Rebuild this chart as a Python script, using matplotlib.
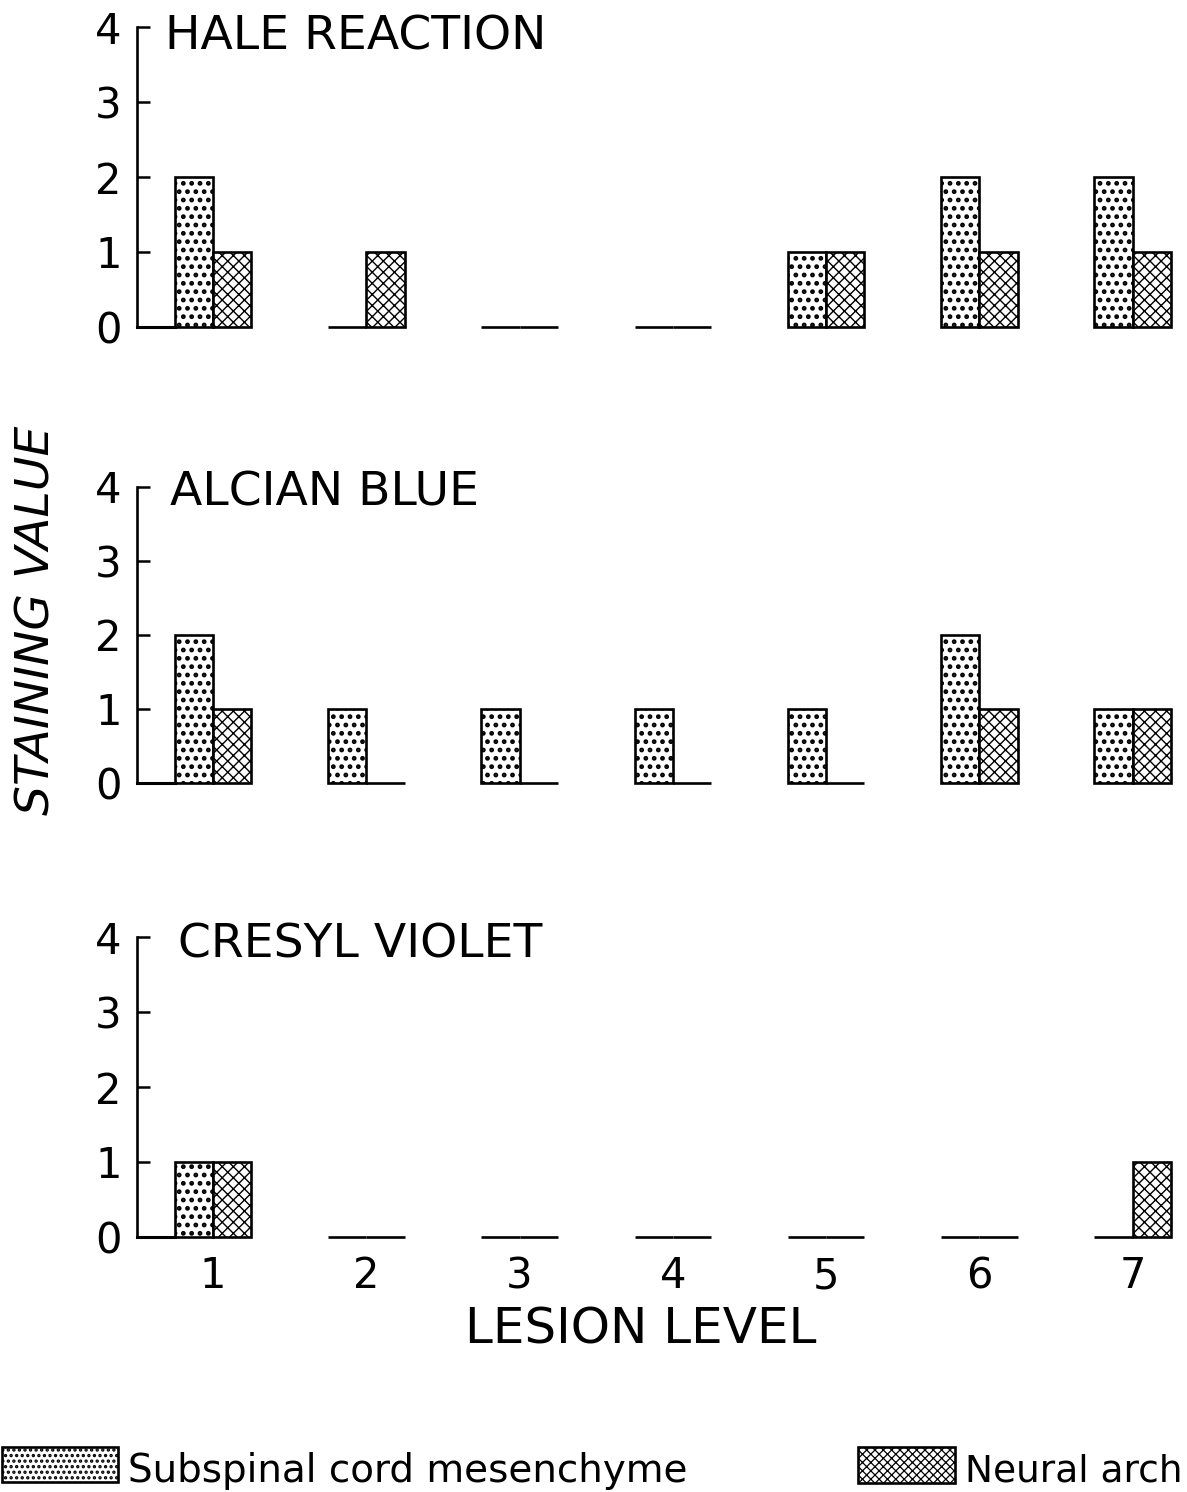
import matplotlib
matplotlib.use('Agg')
import matplotlib.pyplot as plt
from matplotlib.patches import Rectangle
import numpy as np

levels = [1, 2, 3, 4, 5, 6, 7]
panel_titles = ['HALE REACTION', 'ALCIAN BLUE', 'CRESYL VIOLET']
subspinal = [
    [2, 0, 0, 0, 1, 2, 2],
    [2, 1, 1, 1, 1, 2, 1],
    [1, 0, 0, 0, 0, 0, 0],
]
neural_arch = [
    [1, 1, 0, 0, 1, 1, 1],
    [1, 0, 0, 0, 0, 1, 1],
    [1, 0, 0, 0, 0, 0, 1],
]
y_ticks = [0, 1, 2, 3, 4]
legend_labels = ['Subspinal cord mesenchyme', 'Neural arch']

W, H = 1187, 1492
plt.rcParams['font.family'] = ['DejaVu Sans']

fig = plt.figure(figsize=(W / 100, H / 100), dpi=100)


def fx(px):
    return px / W


def fy(py):
    return 1 - py / H


def hatch_lw(patches, lw):
    # per-patch hatch width where the matplotlib version supports it
    for p in patches:
        if hasattr(p, 'set_hatch_linewidth'):
            p.set_hatch_linewidth(lw)


DOT_LW = 2.2
CROSS_LW = 1.0
bw = 0.25
x_left = 0.503
x_right = 7.31
# axes pixel extents (top of y=4, y=0)
panel_px = [(27, 327), (487, 783), (937, 1237)]
title_px = [(165, 50), (170, 505), (178, 957)]

x = np.array(levels)
for i in range(3):
    top, bot = panel_px[i]
    ax = fig.add_axes([fx(137), fy(bot), fx(1180) - fx(137), (bot - top) / H])
    with plt.rc_context({'hatch.linewidth': DOT_LW}):
        b1 = ax.bar(x - bw / 2, subspinal[i], width=bw, facecolor='white', edgecolor='black',
                    linewidth=1.9, hatch='..', clip_on=False)
    hatch_lw(b1, DOT_LW)
    with plt.rc_context({'hatch.linewidth': CROSS_LW}):
        b2 = ax.bar(x + bw / 2, neural_arch[i], width=bw, facecolor='white', edgecolor='black',
                    linewidth=1.9, hatch='xxx', clip_on=False)
    hatch_lw(b2, CROSS_LW)
    ax.set_xlim(x_left, x_right)
    ax.set_ylim(0, 4)
    ax.spines['top'].set_visible(False)
    ax.spines['right'].set_visible(False)
    ax.spines['left'].set_linewidth(1.9)
    ax.spines['bottom'].set_linewidth(2.2)
    ax.spines['bottom'].set_bounds(x_left, 1 - bw)
    ax.set_yticks(y_ticks)
    ax.tick_params(axis='y', direction='in', length=9.5, width=1.8, pad=11, labelsize=30)
    ax.set_xticks(levels)
    if i == 2:
        ax.tick_params(axis='x', length=0, pad=13, labelsize=30)
    else:
        ax.tick_params(axis='x', length=0, labelbottom=False)
    fig.text(fx(title_px[i][0]), fy(title_px[i][1]), panel_titles[i], fontsize=34,
             ha='left', va='baseline')

fig.text(fx(37), fy(620), 'STAINING VALUE', fontsize=34, style='italic',
         rotation=90, ha='center', va='center')
fig.text(fx(641), fy(1343), 'LESION LEVEL', fontsize=36, ha='center', va='baseline')

# legend
with plt.rc_context({'hatch.linewidth': 1.6}):
    r1 = Rectangle((fx(2), fy(1482)), fx(118) - fx(2), (1482 - 1447) / H,
                   transform=fig.transFigure, facecolor='white', edgecolor='black',
                   linewidth=1.9, hatch='...')
hatch_lw([r1], 1.6)
fig.add_artist(r1)
fig.text(fx(128), fy(1482), legend_labels[0], fontsize=28, ha='left', va='baseline')
with plt.rc_context({'hatch.linewidth': 0.9}):
    r2 = Rectangle((fx(858), fy(1483)), fx(955) - fx(858), (1483 - 1447) / H,
                   transform=fig.transFigure, facecolor='white', edgecolor='black',
                   linewidth=1.9, hatch='xxxx')
hatch_lw([r2], 0.9)
fig.add_artist(r2)
fig.text(fx(965), fy(1482), legend_labels[1], fontsize=27, ha='left', va='baseline')

fig.savefig('out.png', dpi=100)
